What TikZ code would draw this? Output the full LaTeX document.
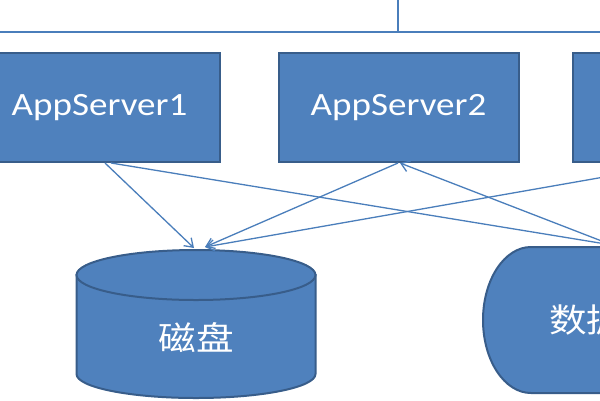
\documentclass[tikz,border=0pt]{standalone}
\usepackage{fontspec}
\setmainfont{Carlito}[FakeStretch=1.14]
\newfontfamily\cjk{Noto Sans CJK SC}[FakeStretch=1.14]
\usetikzlibrary{arrows.meta,calc}
\definecolor{boxfill}{HTML}{4F81BD}
\definecolor{boxline}{HTML}{385D8A}
\definecolor{wire}{HTML}{4A7EBB}
\tikzset{
  server/.style={draw=boxline, fill=boxfill, line width=2pt, minimum width=240pt,
    minimum height=109pt, inner sep=0pt, text=white, font=\fontsize{32.5}{36}\selectfont},
  storage/.style={draw=boxline, fill=boxfill, line width=2pt},
  wirel/.style={draw=wire, line width=1.3pt},
  link/.style={wirel, -{Straight Barb[length=8pt,width=11pt,line width=1.3pt]}},
  cjklabel/.style={text=white, font=\cjk\fontsize{33}{36}\selectfont, inner sep=0pt},
}
\begin{document}
\begin{tikzpicture}[x=1pt,y=-1pt]
\useasboundingbox (0,0) rectangle (600,400);
\clip (0,0) rectangle (600,400);
\fill[white] (0,0) rectangle (600,400);
% bus line
\coordinate (busL) at (0,32);
\coordinate (busR) at (600,32);
\coordinate (busT) at (398,0);
\coordinate (busJ) at (398,32);
\draw[wirel] (busL) -- (busR);
\draw[wirel] (busT) -- (busJ);
% servers
\node[server] (a1) at (99.5,107.5) {AppServer1};
\node[server] (a2) at (398.5,107.5) {AppServer2};
\node[server] (a3) at (693,107.5) {};
% disk cylinder
\path[storage] (76.5,275) -- (76.5,374)
  arc[start angle=180, end angle=360, x radius=119.5pt, y radius=24pt]
  -- (315.5,275) -- cycle;
\path[storage] (196,275) ellipse [x radius=119.5pt, y radius=25pt];
\node[cjklabel] (disk) at (196,338) {磁盘};
\coordinate (diskA) at (194,248);
\coordinate (diskB) at (205,247);
% database shape
\path[storage] (625,247) -- (531,247)
  arc[start angle=90, end angle=270, x radius=48pt, y radius=73pt]
  -- (625,393) -- cycle;
\node[cjklabel, anchor=west] (db) at (549,320) {数据};
\coordinate (dbin) at (612,245);
% connectors
\draw[link] ([xshift=5.5pt]a1.south) -- (diskA);
\draw[link] ([xshift=-0.5pt]a2.south) -- (diskB);
\draw[link] ([xshift=-9pt]a3.south) -- (diskB);
\draw[link] ([xshift=11.5pt]a1.south) -- (dbin);
\draw[link] (dbin) -- ([xshift=1.5pt]a2.south);
\end{tikzpicture}
\end{document}
